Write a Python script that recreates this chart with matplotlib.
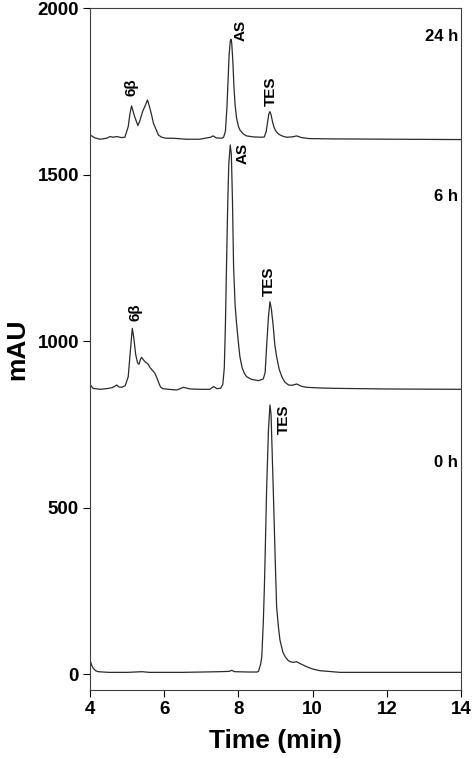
import matplotlib
matplotlib.use("Agg")
import matplotlib.pyplot as plt

plt.rcParams['font.family'] = ['Liberation Sans', 'DejaVu Sans']
plt.rcParams['font.weight'] = 'bold'

# ---- data (time in min, signal in mAU incl. offset) ----
t_24h = [4.00, 4.13, 4.27, 4.45, 4.54, 4.63, 4.72, 4.85, 4.94, 5.03, 5.08, 5.12, 5.20,
         5.29, 5.34, 5.42, 5.48, 5.55, 5.60, 5.66, 5.71, 5.80, 5.84, 5.93, 6.05, 6.24,
         6.60, 6.96, 7.25, 7.32, 7.40, 7.55, 7.60, 7.65, 7.69, 7.72, 7.75, 7.78, 7.80,
         7.82, 7.85, 7.88, 7.91, 7.95, 8.00, 8.04, 8.13, 8.22, 8.40, 8.63, 8.70, 8.75,
         8.79, 8.82, 8.85, 8.88, 8.92, 8.96, 9.00, 9.06, 9.12, 9.20, 9.30, 9.45, 9.57,
         9.70, 9.90, 10.50, 14.00]
y_24h = [1619, 1610, 1606, 1609, 1614, 1612, 1614, 1611, 1612, 1644, 1685, 1706, 1675,
         1647, 1660, 1690, 1705, 1724, 1705, 1679, 1654, 1630, 1619, 1612, 1609, 1609,
         1606, 1606, 1612, 1616, 1610, 1609, 1612, 1630, 1700, 1780, 1860, 1900, 1906,
         1895, 1840, 1764, 1710, 1670, 1645, 1634, 1622, 1616, 1613, 1612, 1613, 1630,
         1660, 1682, 1689, 1680, 1658, 1642, 1632, 1624, 1619, 1615, 1612, 1613, 1616,
         1611, 1608, 1607, 1605]

t_6h = [4.00, 4.08, 4.27, 4.45, 4.60, 4.68, 4.72, 4.78, 4.85, 4.95, 5.03, 5.08, 5.14,
        5.18, 5.23, 5.28, 5.32, 5.36, 5.39, 5.43, 5.48, 5.53, 5.57, 5.62, 5.66, 5.75,
        5.80, 5.84, 5.90, 5.96, 6.10, 6.34, 6.45, 6.52, 6.70, 7.00, 7.23, 7.30, 7.34,
        7.42, 7.52, 7.58, 7.62, 7.65, 7.68, 7.71, 7.74, 7.78, 7.81, 7.84, 7.87, 7.91,
        7.95, 8.00, 8.04, 8.10, 8.16, 8.22, 8.35, 8.54, 8.62, 8.67, 8.72, 8.76, 8.81,
        8.85, 8.89, 8.94, 8.98, 9.03, 9.10, 9.17, 9.25, 9.35, 9.45, 9.57, 9.70, 9.84,
        10.20, 10.56, 12.00, 14.00]
y_6h = [870, 858, 855, 857, 860, 865, 868, 862, 861, 866, 893, 960, 1038,
        1010, 960, 935, 930, 945, 951, 945, 938, 934, 930, 920, 915, 903,
        890, 878, 862, 857, 855, 853, 858, 861, 856, 855, 855, 861, 863,
        857, 858, 870, 920, 1050, 1230, 1400, 1530, 1589, 1560, 1420, 1224, 1110,
        1053, 995, 953, 920, 903, 893, 885, 881, 884, 886, 905, 983, 1073,
        1118, 1095, 1043, 990, 953, 915, 893, 877, 868, 867, 871, 864, 861,
        859, 858, 856, 855]

t_0h = [4.00, 4.05, 4.09, 4.15, 4.22, 4.50, 5.00, 5.40, 5.60, 6.50, 7.00, 7.50, 7.75,
        7.82, 7.90, 8.30, 8.50, 8.54, 8.60, 8.63, 8.67, 8.70, 8.72, 8.76, 8.81, 8.85,
        8.88, 8.90, 8.94, 8.99, 9.03, 9.08, 9.12, 9.20, 9.26, 9.33, 9.39, 9.48, 9.57,
        9.65, 9.84, 10.00, 10.20, 10.74, 14.00]
y_0h = [42, 25, 17, 10, 7, 5, 5, 7, 5, 5, 6, 7, 8,
        11, 7, 6, 6, 8, 30, 52, 152, 260, 352, 553, 733, 808,
        780, 703, 553, 352, 202, 140, 102, 65, 52, 42, 37, 35, 37,
        32, 22, 15, 10, 5, 5]

sample_labels = ['24 h', '6 h', '0 h']
x_ticks = [4, 6, 8, 10, 12, 14]
y_ticks = [0, 500, 1000, 1500, 2000]

fig = plt.figure(figsize=(4.72, 7.58), dpi=100)
ax = fig.add_axes([0.1907, 0.0897, 0.7860, 0.8997])

line_kw = dict(color='#2a2a2a', lw=0.9)
ax.plot(t_24h, y_24h, **line_kw)
ax.plot(t_6h, y_6h, **line_kw)
ax.plot(t_0h, y_0h, **line_kw)

ax.set_xlim(4, 14)
ax.set_ylim(-48, 2000)
ax.set_xticks(x_ticks)
ax.set_yticks(y_ticks)
ax.tick_params(axis='both', direction='out', length=5, width=0.8, labelsize=13.5,
               top=False, right=False, pad=3)
for lab in ax.get_xticklabels() + ax.get_yticklabels():
    lab.set_fontweight('bold')
for sp in ax.spines.values():
    sp.set_linewidth(0.8)
    sp.set_color('#404040')

ax.set_xlabel('Time (min)', fontsize=19, fontweight='bold', labelpad=8)
ax.set_ylabel('mAU', fontsize=19, fontweight='bold', labelpad=6)

# sample labels
lab_y = [1914, 1435, 634]
for txt, yy in zip(sample_labels, lab_y):
    ax.text(13.92, yy, txt, ha='right', va='center', fontsize=12, fontweight='bold')

# peak labels
pk_kw = dict(rotation=90, ha='center', va='bottom', fontsize=11, fontweight='bold')
ax.text(5.12, 1735, '6β', **pk_kw)
ax.text(8.07, 1900, 'AS', **pk_kw)
ax.text(8.87, 1707, 'TES', **pk_kw)
ax.text(5.23, 1060, '6β', **pk_kw)
ax.text(8.12, 1532, 'AS', **pk_kw)
ax.text(8.83, 1136, 'TES', **pk_kw)
ax.text(9.23, 722, 'TES', **pk_kw)

fig.savefig('out.png', dpi=100)
